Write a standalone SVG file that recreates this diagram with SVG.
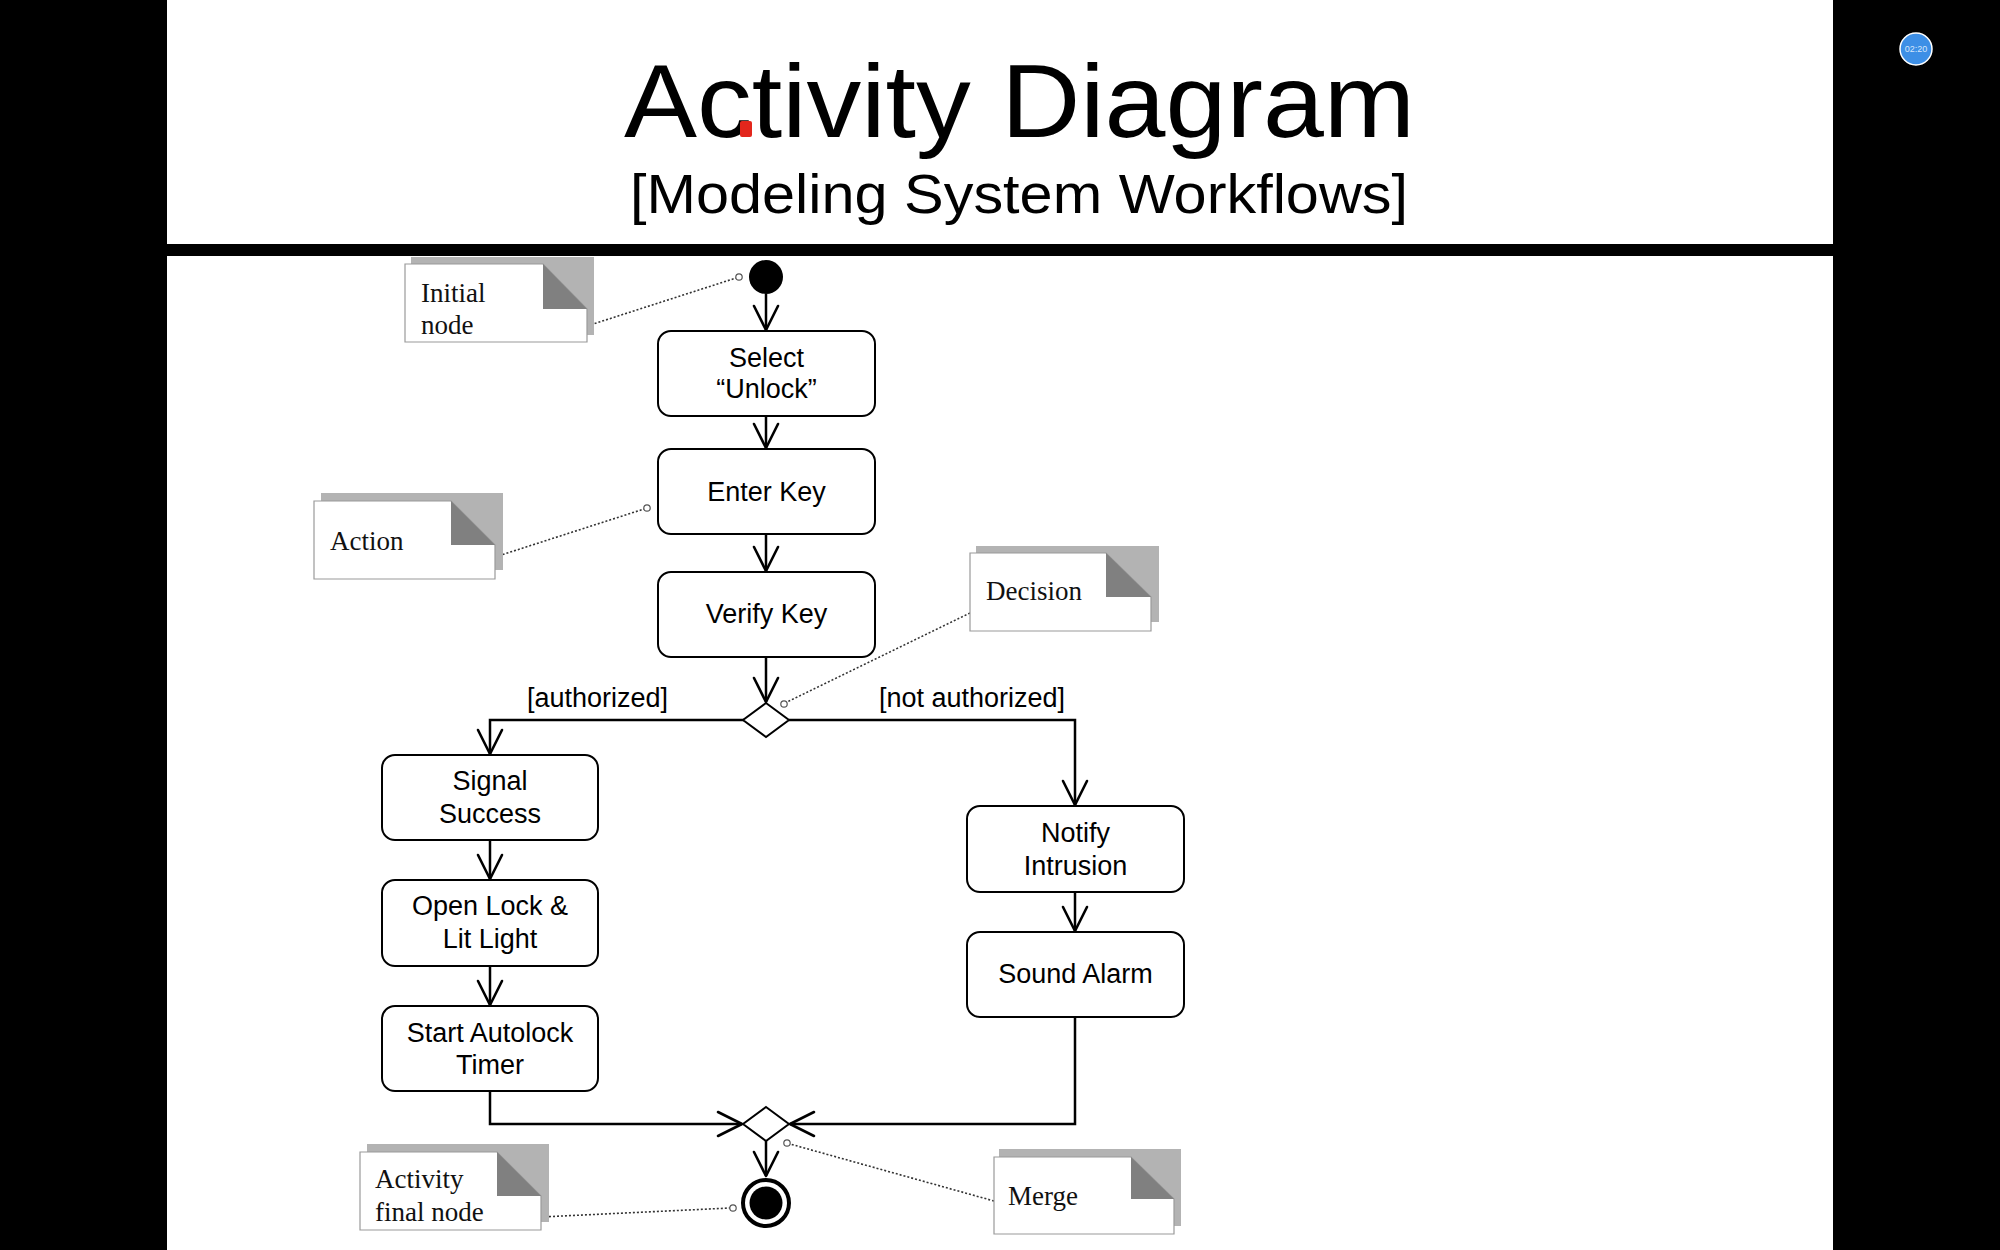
<svg xmlns="http://www.w3.org/2000/svg" width="2000" height="1250" viewBox="0 0 2000 1250">
<style>
.act{fill:#fff;stroke:#000;stroke-width:2}
.lbl{font-family:"Liberation Sans",Arial,sans-serif;font-size:27px;fill:#000;text-anchor:middle}
.grd{font-family:"Liberation Sans",Arial,sans-serif;font-size:27px;fill:#000}
.ntx{font-family:"Liberation Serif","Times New Roman",serif;font-size:27px;fill:#111}
.shadow{fill:#b3b3b3}
.paper{fill:#fff;stroke:#9a9a9a;stroke-width:1.2}
.fold{fill:#808080}
.flow{fill:none;stroke:#000;stroke-width:2.5;marker-end:url(#arr)}
.dot{fill:none;stroke:#333;stroke-width:1.6;stroke-dasharray:2 2}
.pin{fill:#fff;stroke:#555;stroke-width:1.2}
.ttl{font-family:"Liberation Sans",Arial,sans-serif;fill:#000}
</style>
<defs>
<marker id="arr" markerUnits="userSpaceOnUse" markerWidth="32" markerHeight="32" viewBox="-4 -4 32 32" refX="24" refY="12" orient="auto">
<path d="M0,0 L24,12 L0,24" fill="none" stroke="#000" stroke-width="2.6" stroke-linejoin="round" stroke-linecap="round"/>
</marker>
</defs>
<rect x="0" y="0" width="2000" height="1250" fill="#000"/>
<rect x="167" y="0" width="1666" height="244" fill="#fff"/>
<rect x="167" y="256" width="1666" height="994" fill="#fff"/>

<g id="title">
<text class="ttl" x="624" y="137" font-size="104" textLength="791" lengthAdjust="spacingAndGlyphs">Activity Diagram</text>
<rect x="740" y="121" width="12" height="16" rx="2" fill="#e3261c"/>
<text class="ttl" x="630" y="213" font-size="55" textLength="778" lengthAdjust="spacingAndGlyphs">[Modeling System Workflows]</text>
</g>

<g id="timer">
<circle cx="1916" cy="49" r="16" fill="#3d8fe6" stroke="#fff" stroke-width="1.5"/>
<text x="1916" y="52" font-family="Liberation Sans,sans-serif" font-size="9" fill="#d6e6fb" text-anchor="middle">02:20</text>
</g>

<g id="connectors">
<line class="flow" x1="766" y1="294" x2="766" y2="330"/>
<line class="flow" x1="766" y1="416" x2="766" y2="448"/>
<line class="flow" x1="766" y1="534" x2="766" y2="571"/>
<line class="flow" x1="766" y1="657" x2="766" y2="702"/>
<path class="flow" d="M744,720 H490 V754"/>
<path class="flow" d="M789,720 H1075 V805"/>
<line class="flow" x1="490" y1="840" x2="490" y2="879"/>
<line class="flow" x1="490" y1="966" x2="490" y2="1005"/>
<line class="flow" x1="1075" y1="892" x2="1075" y2="931"/>
<path class="flow" d="M490,1091 V1124 H742"/>
<path class="flow" d="M1075,1017 V1124 H790"/>
<line class="flow" x1="766" y1="1141" x2="766" y2="1176"/>
<g id="note-links">
<line class="dot" x1="587" y1="326" x2="736" y2="278"/>
<circle class="pin" cx="739" cy="277" r="3.2"/>
<line class="dot" x1="495" y1="557" x2="644" y2="509"/>
<circle class="pin" cx="647" cy="508" r="3.2"/>
<line class="dot" x1="970" y1="613" x2="787" y2="702"/>
<circle class="pin" cx="784" cy="704" r="3.2"/>
<line class="dot" x1="541" y1="1217" x2="730" y2="1208"/>
<circle class="pin" cx="733" cy="1208" r="3.2"/>
<line class="dot" x1="994" y1="1201" x2="790" y2="1144"/>
<circle class="pin" cx="787" cy="1143" r="3.2"/>
</g>
</g>

<g id="initial"><circle cx="766" cy="277" r="17" fill="#000"/></g>

<g id="select"><rect class="act" x="658" y="331" width="217" height="85" rx="13"/>
<text class="lbl" x="766.5" y="367">Select</text><text class="lbl" x="766.5" y="398">“Unlock”</text></g>
<g id="enter"><rect class="act" x="658" y="449" width="217" height="85" rx="13"/>
<text class="lbl" x="766.5" y="501">Enter Key</text></g>
<g id="verify"><rect class="act" x="658" y="572" width="217" height="85" rx="13"/>
<text class="lbl" x="766.5" y="623">Verify Key</text></g>

<g id="decision"><polygon points="766,703 789,720 766,737 743,720" fill="#fff" stroke="#000" stroke-width="2"/></g>
<g id="guard-auth"><text class="grd" x="527" y="707">[authorized]</text></g>
<g id="guard-notauth"><text class="grd" x="879" y="707">[not authorized]</text></g>

<g id="signal"><rect class="act" x="382" y="755" width="216" height="85" rx="13"/>
<text class="lbl" x="490" y="790">Signal</text><text class="lbl" x="490" y="823">Success</text></g>
<g id="open"><rect class="act" x="382" y="880" width="216" height="86" rx="13"/>
<text class="lbl" x="490" y="915">Open Lock &amp;</text><text class="lbl" x="490" y="948">Lit Light</text></g>
<g id="start"><rect class="act" x="382" y="1006" width="216" height="85" rx="13"/>
<text class="lbl" x="490" y="1042">Start Autolock</text><text class="lbl" x="490" y="1074">Timer</text></g>

<g id="notify"><rect class="act" x="967" y="806" width="217" height="86" rx="13"/>
<text class="lbl" x="1075.5" y="842">Notify</text><text class="lbl" x="1075.5" y="875">Intrusion</text></g>
<g id="sound"><rect class="act" x="967" y="932" width="217" height="85" rx="13"/>
<text class="lbl" x="1075.5" y="983">Sound Alarm</text></g>

<g id="merge"><polygon points="766,1107 789,1124 766,1141 743,1124" fill="#fff" stroke="#000" stroke-width="2"/></g>
<g id="final"><circle cx="766" cy="1203" r="23" fill="#fff" stroke="#000" stroke-width="4"/><circle cx="766" cy="1203" r="16.5" fill="#000"/></g>

<g id="note-initial">
<rect class="shadow" x="411" y="257" width="183" height="78"/>
<polygon class="paper" points="405,264 543,264 587,309 587,342 405,342"/>
<polygon class="fold" points="543,264 587,309 543,309"/>
<text class="ntx" x="421" y="302">Initial</text><text class="ntx" x="421" y="334">node</text>
</g>
<g id="note-action">
<rect class="shadow" x="321" y="493" width="182" height="77"/>
<polygon class="paper" points="314,501 451,501 495,545 495,579 314,579"/>
<polygon class="fold" points="451,501 495,545 451,545"/>
<text class="ntx" x="330" y="550">Action</text>
</g>
<g id="note-decision">
<rect class="shadow" x="976" y="546" width="183" height="76"/>
<polygon class="paper" points="970,553 1106,553 1151,597 1151,631 970,631"/>
<polygon class="fold" points="1106,553 1151,597 1106,597"/>
<text class="ntx" x="986" y="600">Decision</text>
</g>
<g id="note-final">
<rect class="shadow" x="367" y="1144" width="182" height="78"/>
<polygon class="paper" points="360,1152 497,1152 541,1196 541,1230 360,1230"/>
<polygon class="fold" points="497,1152 541,1196 497,1196"/>
<text class="ntx" x="375" y="1188">Activity</text><text class="ntx" x="375" y="1221">final node</text>
</g>
<g id="note-merge">
<rect class="shadow" x="999" y="1149" width="182" height="77"/>
<polygon class="paper" points="994,1157 1131,1157 1174,1199 1174,1234 994,1234"/>
<polygon class="fold" points="1131,1157 1174,1199 1131,1199"/>
<text class="ntx" x="1008" y="1205">Merge</text>
</g>
</svg>
